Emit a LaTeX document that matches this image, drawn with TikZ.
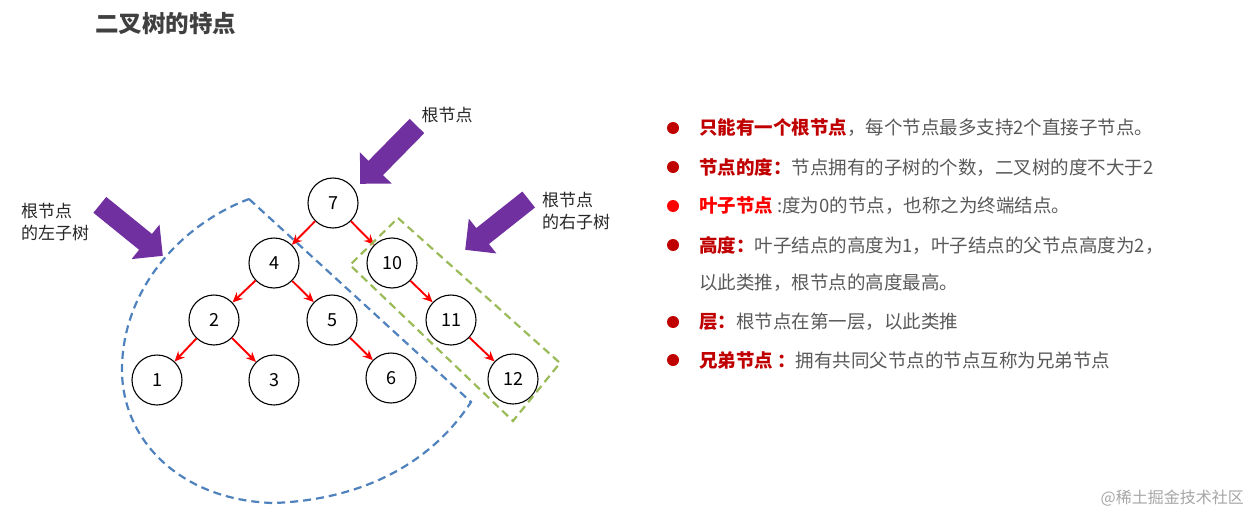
\documentclass[tikz,border=0pt]{standalone}
\usepackage{fontspec}
\setmainfont{Noto Sans CJK SC}
\usetikzlibrary{arrows.meta,shapes.arrows}
\definecolor{keyred}{HTML}{C00000}
\definecolor{leafred}{HTML}{FF0000}
\definecolor{bodygray}{HTML}{595959}
\definecolor{titlegray}{HTML}{404040}
\definecolor{tagdark}{HTML}{262626}
\definecolor{calloutpurple}{HTML}{7030A0}
\definecolor{leftblue}{HTML}{4F81BD}
\definecolor{rightgreen}{HTML}{9BBB59}
\begin{document}
\begin{tikzpicture}[x=1pt,y=-1pt,
	treenode/.style={ circle, draw, line width=1.1pt, minimum size=50pt, inner sep=0pt, font=\fontsize{18}{18}\selectfont },
	edge/.style={ red, line width=1.9pt, -{Stealth[length=10pt,width=9pt]} },
	callout/.style={ single arrow, fill=calloutpurple, inner sep=0pt, inner ysep=10pt, single arrow head extend=12pt, minimum height=81pt, anchor=tip },
	tagtext/.style={ text=tagdark, font=\fontsize{17}{22}\selectfont, align=left, inner sep=0pt },
	bulletdot/.style={ circle, fill=keyred, inner sep=0pt, minimum size=12pt },
	itemtext/.style={ anchor=west, inner sep=0pt, text=bodygray, font=\fontsize{18.5}{18.5}\selectfont },
	subtree/.style={ line width=2.2pt, dash pattern=on 8pt off 5pt }
]
\useasboundingbox (0,0) rectangle (1253,514);

\node[text=titlegray, font=\fontsize{23.5}{23.5}\selectfont\bfseries, anchor=west, inner sep=0pt] at (95,24) (title) {二叉树的特点};

% tree
\node[treenode] at (333,203) (n7) {7};
\node[treenode] at (274,263) (n4) {4};
\node[treenode] at (392,263) (n10) {10};
\node[treenode] at (214,320) (n2) {2};
\node[treenode] at (332,320) (n5) {5};
\node[treenode] at (451,320) (n11) {11};
\node[treenode] at (157,380) (n1) {1};
\node[treenode] at (274,380) (n3) {3};
\node[treenode] at (391,378) (n6) {6};
\node[treenode] at (513,379) (n12) {12};
\draw[edge] (n7) -- (n4);
\draw[edge] (n7) -- (n10);
\draw[edge] (n4) -- (n2);
\draw[edge] (n4) -- (n5);
\draw[edge] (n10) -- (n11);
\draw[edge] (n2) -- (n1);
\draw[edge] (n2) -- (n3);
\draw[edge] (n5) -- (n6);
\draw[edge] (n11) -- (n12);

% subtrees
\draw[subtree, leftblue] (249,199) -- (471,402)
  .. controls (430,465) and (360,500) .. (273,503)
  .. controls (180,500) and (122,440) .. (122,370)
  .. controls (122,290) and (180,225) .. cycle;
\draw[subtree, rightgreen] (398,218) -- (560,363) -- (513,421) -- (350,265) -- cycle;

% callouts
\node[callout, rotate=225.5] at (360,184) (rootarrow) {};
\node[callout, rotate=-39] at (163,256) (leftarrow) {};
\node[callout, rotate=218.4] at (465,250) (rightarrow) {};
\node[tagtext] at (447,115) (roottag) {根节点};
\node[tagtext, anchor=west] at (21,222) (lefttag) {根节点\\的左子树};
\node[tagtext, anchor=west] at (542,211) (righttag) {根节点\\的右子树};

% list
\node[bulletdot] at (673,128) (b1) {};
\node[bulletdot] at (673,167) (b2) {};
\node[bulletdot, fill=leafred] at (673,206) (b3) {};
\node[bulletdot] at (673,245) (b4) {};
\node[bulletdot] at (673,322) (b5) {};
\node[bulletdot] at (673,360) (b6) {};
\node[itemtext] at (699,128) (t1) {\textcolor{keyred}{\bfseries 只能有一个根节点}，每个节点最多支持2个直接子节点。};
\node[itemtext] at (699,167) (t2) {\textcolor{keyred}{\bfseries 节点的度：}节点拥有的子树的个数，二叉树的度不大于2};
\node[itemtext] at (699,206) (t3) {\textcolor{leafred}{\bfseries 叶子节点} :度为0的节点，也称之为终端结点。};
\node[itemtext] at (699,245) (t4) {\textcolor{keyred}{\bfseries 高度：}叶子结点的高度为1，叶子结点的父节点高度为2，};
\node[itemtext] at (699,283) (t4b) {以此类推，根节点的高度最高。};
\node[itemtext] at (699,322) (t5) {\textcolor{keyred}{\bfseries 层：}根节点在第一层，以此类推};
\node[itemtext] at (699,360) (t6) {\textcolor{keyred}{\bfseries 兄弟节点 ：}拥有共同父节点的节点互称为兄弟节点};

\node[anchor=east, inner sep=0pt, text=black!35, font=\fontsize{16}{16}\selectfont] at (1244,498) (mark) {@稀土掘金技术社区};
\end{tikzpicture}
\end{document}
